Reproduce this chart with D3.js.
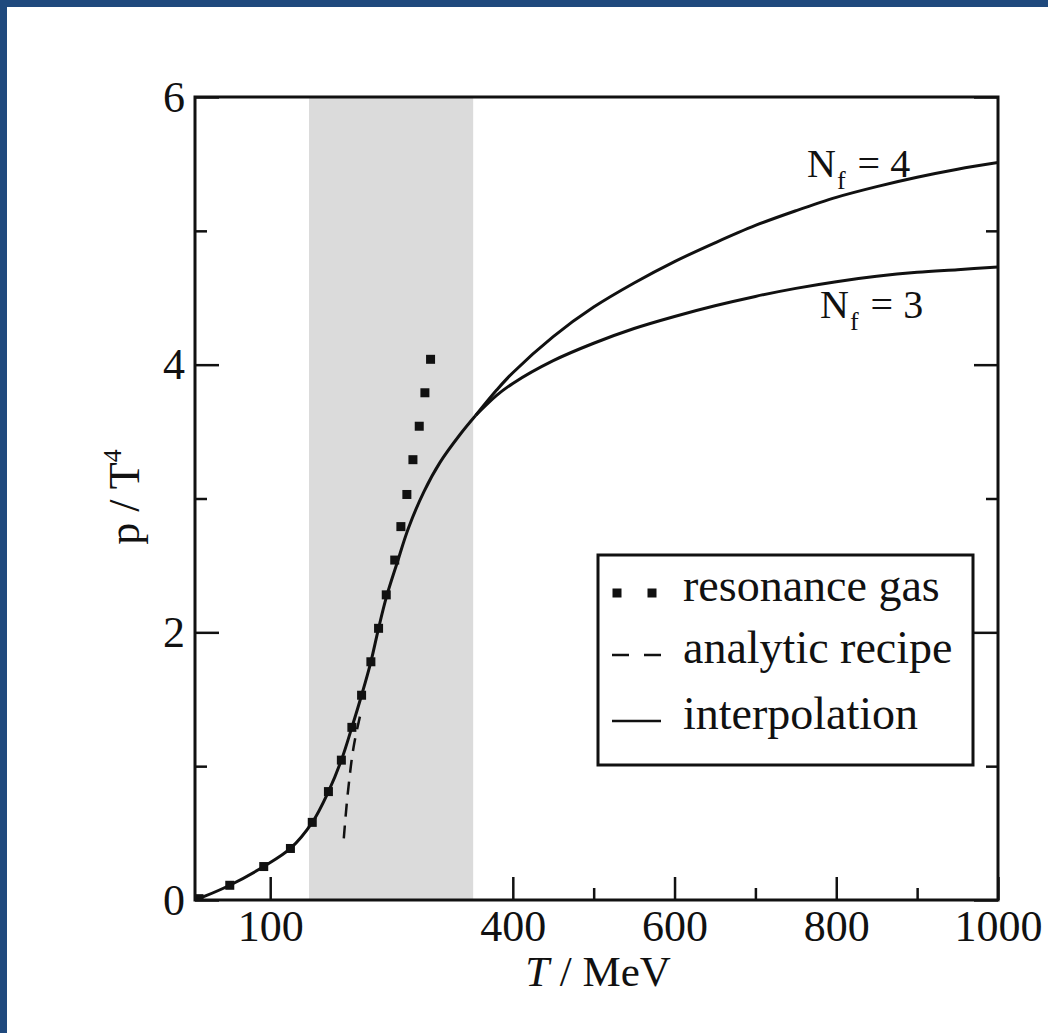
<!DOCTYPE html>
<html>
<head>
<meta charset="utf-8">
<script src="https://cdn.jsdelivr.net/npm/d3@7"></script>
<style>
  html, body { margin: 0; padding: 0; background: #fff; }
  svg { display: block; }
  text { font-family: "Liberation Serif", "Times New Roman", serif; fill: #111; }
</style>
</head>
<body>
<svg id="chart" width="1048" height="1033"></svg>
<script>
// ---- data (T in MeV, p/T^4) ----
const bandRange = [148, 351];           // shaded crossover region
const xMajorTicks = [100, 400, 600, 800, 1000];
const xMinorTicks = [500, 700, 900];
const yMajorTicks = [0, 2, 4, 6];
const yMinorTicks = [1, 3, 5];

const interpolationT = [7, 20, 50, 92, 125, 152, 172, 188, 201, 213, 224.5, 234, 244, 257, 271, 290, 310, 335, 354];
const interpolationV = [0, 0.03, 0.11, 0.25, 0.385, 0.58, 0.81, 1.045, 1.29, 1.53, 1.78, 2.03, 2.27, 2.52, 2.78, 3.05, 3.27, 3.48, 3.62];

const nf3T = [354, 380, 400, 450, 500, 550, 600, 650, 700, 750, 800, 850, 900, 950, 1000];
const nf3V = [3.62, 3.77, 3.86, 4.03, 4.16, 4.27, 4.36, 4.44, 4.51, 4.57, 4.62, 4.66, 4.69, 4.71, 4.73];

const nf4T = [354, 380, 400, 450, 500, 550, 600, 650, 700, 750, 800, 850, 900, 950, 1000];
const nf4V = [3.62, 3.81, 3.94, 4.21, 4.43, 4.61, 4.77, 4.91, 5.04, 5.15, 5.25, 5.33, 5.40, 5.46, 5.51];

const resonanceT = [12, 50, 92, 125, 152, 172, 188, 201, 213, 224.5, 234, 243.5, 254, 261.6, 269, 276.5, 284.3, 291.3, 298.3];
const resonanceV = [0.01, 0.11, 0.25, 0.385, 0.58, 0.81, 1.045, 1.29, 1.53, 1.78, 2.03, 2.28, 2.54, 2.79, 3.03, 3.29, 3.54, 3.79, 4.04];

const analyticT = [191, 196.8, 203.9, 211.3];
const analyticV = [0.46, 0.845, 1.17, 1.38];

const legendLabels = ["resonance gas", "analytic recipe", "interpolation"];
const xLabel = ["T", " / MeV"];
const yLabel = ["p / T", "4"];

// ---- layout ----
const svg = d3.select("#chart");
const pLeft = 195, pRight = 998, pTop = 97, pBottom = 900;
const ink = "#111";

const x = d3.scaleLinear().domain([7, 1000]).range([pLeft, pRight]);
const y = d3.scaleLinear().domain([0, 6]).range([pBottom, pTop]);

const zip = (a, b) => a.map((t, i) => [t, b[i]]);
const line = d3.line().x(d => x(d[0])).y(d => y(d[1])).curve(d3.curveCatmullRom.alpha(0.5));

// page frame (blue edges)
svg.append("rect").attr("x", 0).attr("y", 0).attr("width", 1048).attr("height", 7).attr("fill", "#1f497d");
svg.append("rect").attr("x", 0).attr("y", 0).attr("width", 7).attr("height", 1033).attr("fill", "#1f497d");

// shaded band
svg.append("rect")
  .attr("x", x(bandRange[0])).attr("y", pTop)
  .attr("width", x(bandRange[1]) - x(bandRange[0]))
  .attr("height", pBottom - pTop)
  .attr("fill", "#dbdbdb");

svg.append("clipPath").attr("id", "plotclip")
  .append("rect").attr("x", pLeft).attr("y", pTop).attr("width", pRight - pLeft).attr("height", pBottom - pTop);
const plot = svg.append("g").attr("clip-path", "url(#plotclip)");

// curves
plot.append("path").datum(zip(interpolationT, interpolationV))
  .attr("d", line).attr("fill", "none").attr("stroke", ink).attr("stroke-width", 3);
plot.append("path").datum(zip(nf3T, nf3V))
  .attr("d", line).attr("fill", "none").attr("stroke", ink).attr("stroke-width", 3);
plot.append("path").datum(zip(nf4T, nf4V))
  .attr("d", line).attr("fill", "none").attr("stroke", ink).attr("stroke-width", 3);

plot.append("path").datum(zip(analyticT, analyticV))
  .attr("d", d3.line().x(d => x(d[0])).y(d => y(d[1])).curve(d3.curveMonotoneY))
  .attr("fill", "none").attr("stroke", ink).attr("stroke-width", 2.5)
  .attr("stroke-dasharray", "13,9");

const sq = 9;
plot.selectAll("rect.res").data(zip(resonanceT, resonanceV)).enter().append("rect")
  .attr("class", "res")
  .attr("x", d => x(d[0]) - sq / 2).attr("y", d => y(d[1]) - sq / 2)
  .attr("width", sq).attr("height", sq).attr("fill", ink);

// axes
function styleAxis(g) {
  g.select(".domain").remove();
  g.selectAll(".tick line").attr("stroke", ink).attr("stroke-width", 2.5);
  g.selectAll(".tick text").attr("font-size", 44).attr("fill", ink)
    .style("font-family", '"Liberation Serif", "Times New Roman", serif');
}
svg.append("g").attr("transform", `translate(0,${pBottom})`)
  .call(d3.axisBottom(x).tickValues(xMajorTicks).tickSize(-23).tickPadding(10).tickFormat(d3.format("d")))
  .call(styleAxis);
svg.append("g").attr("transform", `translate(0,${pBottom})`)
  .call(d3.axisBottom(x).tickValues(xMinorTicks).tickSize(-12).tickFormat(""))
  .call(styleAxis);
svg.append("g").attr("transform", `translate(${pLeft},0)`)
  .call(d3.axisLeft(y).tickValues(yMajorTicks).tickSize(-24).tickPadding(10).tickFormat(d3.format("d")))
  .call(styleAxis);
svg.append("g").attr("transform", `translate(${pLeft},0)`)
  .call(d3.axisLeft(y).tickValues(yMinorTicks).tickSize(-12).tickFormat(""))
  .call(styleAxis);
svg.append("g").attr("transform", `translate(${pRight},0)`)
  .call(d3.axisRight(y).tickValues(yMajorTicks).tickSize(-24).tickFormat(""))
  .call(styleAxis);
svg.append("g").attr("transform", `translate(${pRight},0)`)
  .call(d3.axisRight(y).tickValues(yMinorTicks).tickSize(-12).tickFormat(""))
  .call(styleAxis);

// frame
svg.append("rect").attr("x", pLeft).attr("y", pTop).attr("width", pRight - pLeft).attr("height", pBottom - pTop)
  .attr("fill", "none").attr("stroke", ink).attr("stroke-width", 3);

// axis titles
const xt = svg.append("text").attr("x", 598).attr("y", 986).attr("text-anchor", "middle").attr("font-size", 43);
xt.append("tspan").attr("font-style", "italic").text(xLabel[0]);
xt.append("tspan").text(xLabel[1]);

const yt = svg.append("text").attr("transform", "translate(139,497) rotate(-90)")
  .attr("text-anchor", "middle").attr("font-size", 44);
yt.append("tspan").text(yLabel[0]);
yt.append("tspan").attr("font-size", 26).attr("dy", -18).text(yLabel[1]);

// N_f labels
function nfLabel(xp, yp, n) {
  const t = svg.append("text").attr("x", xp).attr("y", yp).attr("font-size", 40);
  t.append("tspan").text("N");
  t.append("tspan").attr("font-size", 26).attr("dy", 12).attr("dx", 1).text("f");
  t.append("tspan").attr("dy", -12).attr("dx", 12).text("=");
  t.append("tspan").attr("dx", 10).text(n);
}
nfLabel(807, 177, "4");
nfLabel(820, 318, "3");

// legend
svg.append("rect").attr("x", 598).attr("y", 555).attr("width", 375).attr("height", 210)
  .attr("fill", "#fff").attr("stroke", ink).attr("stroke-width", 3);
const legendY = [593, 655, 721];
[617, 652].forEach(cx => {
  svg.append("rect").attr("x", cx - sq / 2).attr("y", legendY[0] - sq / 2).attr("width", sq).attr("height", sq).attr("fill", ink);
});
svg.append("line").attr("x1", 612).attr("x2", 662).attr("y1", legendY[1]).attr("y2", legendY[1])
  .attr("stroke", ink).attr("stroke-width", 2.5).attr("stroke-dasharray", "17,15");
svg.append("line").attr("x1", 612).attr("x2", 661).attr("y1", legendY[2]).attr("y2", legendY[2])
  .attr("stroke", ink).attr("stroke-width", 2.5);
legendLabels.forEach((lab, i) => {
  svg.append("text").attr("x", 683).attr("y", legendY[i] + 8).attr("font-size", 46).text(lab);
});
</script>
</body>
</html>
